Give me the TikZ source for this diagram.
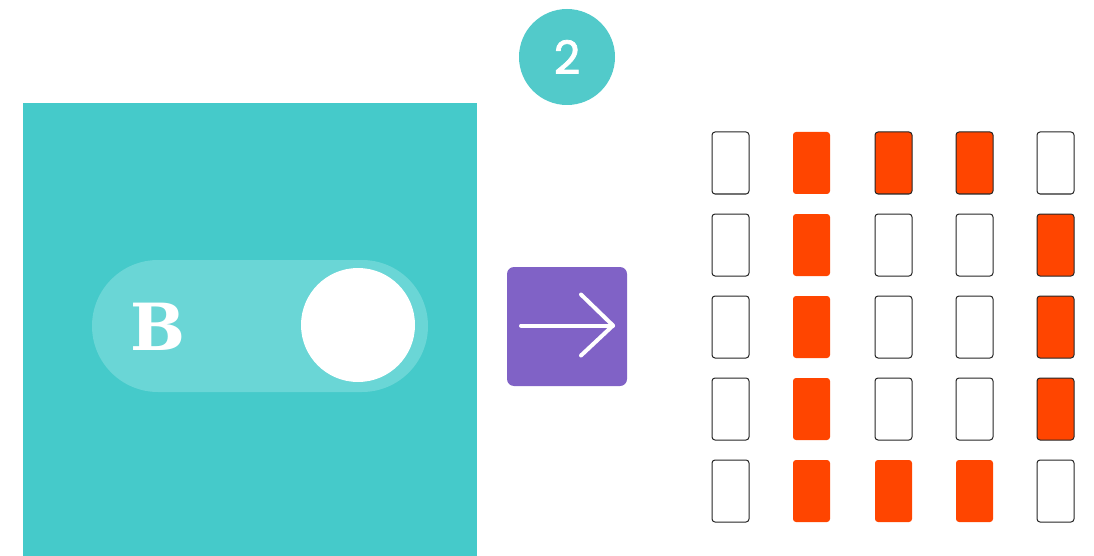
\documentclass[tikz,border=0pt]{standalone}
\usepackage{fontspec}
\newfontfamily\numfont[FakeBold=1.6]{Poppins}
\newfontfamily\bfont{DejaVu Serif}
\usetikzlibrary{calc}
\definecolor{panelteal}{HTML}{45CACA}
\definecolor{toggleteal}{HTML}{6AD6D6}
\definecolor{badgeteal}{HTML}{52CACA}
\definecolor{boxpurple}{HTML}{8062C6}
\definecolor{ledred}{HTML}{FF4500}
\tikzset{
  cell/.style={minimum width=37pt, minimum height=62pt, inner sep=0pt, rounded corners=3pt},
  off/.style={cell, draw=black!85, line width=1pt, fill=white},
  on/.style={cell, fill=ledred},
  onb/.style={cell, fill=ledred, draw=black!85, line width=1pt},
  arrowline/.style={white, line width=4pt, line cap=round, line join=round}
}
\begin{document}
\begin{tikzpicture}[x=1pt,y=-1pt]
\useasboundingbox (0,0) rectangle (1094,556);
% badge
\node[circle, fill=badgeteal, minimum size=96pt, inner sep=0pt, text=white, font=\numfont\fontsize{46}{46}\selectfont] (badge) at (567,57) {2};
% panel
\node[fill=panelteal, minimum width=454pt, minimum height=453pt, inner sep=0pt, anchor=north west] (panel) at (23,103) {};
\node[fill=toggleteal, minimum width=336pt, minimum height=132pt, inner sep=0pt, rounded corners=66pt] (toggle) at (260,326) {};
\node[circle, fill=white, minimum size=114pt, inner sep=0pt] (knob) at (358,325) {};
\node[text=white, font=\bfont\bfseries\fontsize{65}{65}\selectfont, inner sep=0pt] (blabel) at (158,327) {B};
% arrow box
\node[fill=boxpurple, minimum width=120pt, minimum height=119pt, inner sep=0pt, rounded corners=7pt] (abox) at (567,326.5) {};
\coordinate (atail) at ($(abox.center)+(-46,-1)$);
\coordinate (atip) at ($(abox.center)+(46,-1)$);
\coordinate (aup) at ($(atip)+(-32,-31)$);
\coordinate (adown) at ($(atip)+(-32,30)$);
\draw[arrowline] (atail) -- (atip);
\draw[arrowline] (aup) -- (atip) -- (adown);
% grid
\node[off] (c11) at (730.5,163) {};
\node[on]  (c12) at (811.5,163) {};
\node[onb] (c13) at (893.5,163) {};
\node[onb] (c14) at (974.5,163) {};
\node[off] (c15) at (1055.5,163) {};
\node[off] (c21) at (730.5,245) {};
\node[on]  (c22) at (811.5,245) {};
\node[off] (c23) at (893.5,245) {};
\node[off] (c24) at (974.5,245) {};
\node[onb] (c25) at (1055.5,245) {};
\node[off] (c31) at (730.5,327) {};
\node[on]  (c32) at (811.5,327) {};
\node[off] (c33) at (893.5,327) {};
\node[off] (c34) at (974.5,327) {};
\node[onb] (c35) at (1055.5,327) {};
\node[off] (c41) at (730.5,409) {};
\node[on]  (c42) at (811.5,409) {};
\node[off] (c43) at (893.5,409) {};
\node[off] (c44) at (974.5,409) {};
\node[onb] (c45) at (1055.5,409) {};
\node[off] (c51) at (730.5,491) {};
\node[on]  (c52) at (811.5,491) {};
\node[on]  (c53) at (893.5,491) {};
\node[on]  (c54) at (974.5,491) {};
\node[off] (c55) at (1055.5,491) {};
\end{tikzpicture}
\end{document}
